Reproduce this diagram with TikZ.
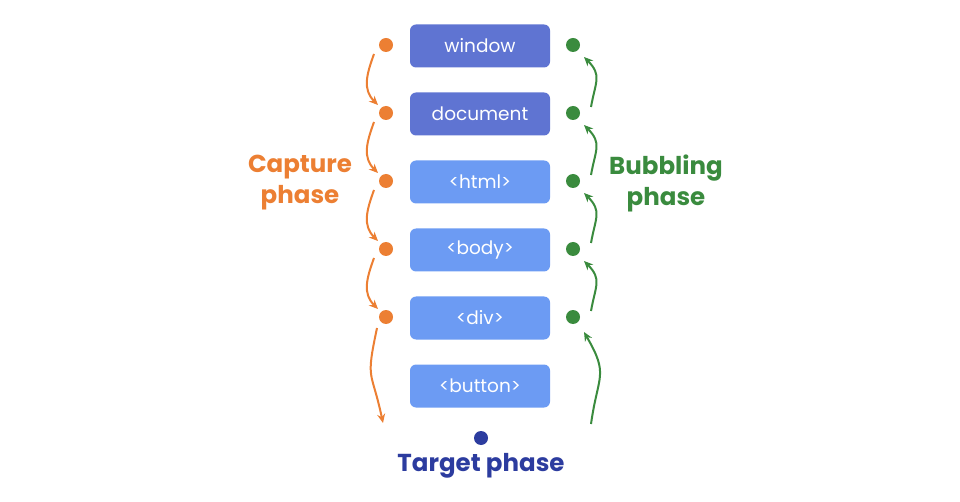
\documentclass[tikz,border=0pt]{standalone}
\usepackage{fontspec}
\setmainfont{Poppins}
\usetikzlibrary{arrows.meta,calc}
\definecolor{boxdark}{HTML}{5F74D2}
\definecolor{boxlight}{HTML}{6C9BF3}
\definecolor{capcol}{HTML}{EC7F33}
\definecolor{bubcol}{HTML}{3A8B3E}
\definecolor{tgtcol}{HTML}{2C3C9F}
\tikzset{
  elem/.style={rounded corners=6pt, minimum width=140pt, minimum height=43pt, text=white, font=\fontsize{18.5}{22}\selectfont, inner sep=0pt},
  darkbox/.style={elem, fill=boxdark},
  lightbox/.style={elem, fill=boxlight},
  dotnode/.style={circle, minimum size=14pt, inner sep=0pt},
  capdot/.style={dotnode, fill=capcol},
  bubdot/.style={dotnode, fill=bubcol},
  caparrow/.style={draw=capcol, line width=2pt, -{Stealth[length=9pt,width=8pt]}},
  bubarrow/.style={draw=bubcol, line width=2pt, -{Stealth[length=9pt,width=8pt]}},
  phaselabel/.style={font=\fontsize{24.5}{31}\selectfont\bfseries, align=center}
}
\begin{document}
\begin{tikzpicture}[x=1pt,y=1pt]
\useasboundingbox (0,0) rectangle (960,-502);
\node[darkbox] (win) at (480,-46) {window};
\node[darkbox] (doc) at (480,-114) {document};
\node[lightbox] (html) at (480,-182) {<html>};
\node[lightbox] (body) at (480,-250) {<body>};
\node[lightbox] (div) at (480,-318) {<div>};
\node[lightbox] (btn) at (480,-386) {<button>};

\foreach \n/\y in {1/45,2/113,3/181,4/249,5/317}{
  \node[capdot] (o\n) at (386,-\y) {};
  \node[bubdot] (g\n) at (573,-\y) {};
}
\node[dotnode, fill=tgtcol] (tgt) at (481,-438) {};
\node[font=\fontsize{24.5}{28}\selectfont\bfseries, text=tgtcol] (tgtlabel) at (481,-466) {Target phase};

\node[phaselabel, text=capcol] (caplabel) at (300,-183) {Capture\\phase};
\node[phaselabel, text=bubcol] (bublabel) at (666,-183) {Bubbling\\phase};

\foreach \a/\b in {1/2,2/3,3/4,4/5}{
  \draw[caparrow] ($(o\a)+(-12,-9)$) to[out=250,in=135,looseness=1.1] ($(o\b)+(-8,8)$);
  \draw[bubarrow] ($(g\b)+(18,6)$) to[out=80,in=-45,looseness=1.3] ($(g\a)+(11,-12)$);
}
\coordinate (capend) at (383,-423);
\coordinate (bubstart) at (591,-424);
\draw[caparrow] ($(o5)+(-9,-11)$) to[out=258,in=102,looseness=1.5] (capend);
\draw[bubarrow] (bubstart) to[out=82,in=-60,looseness=1.4] ($(g5)+(11,-15)$);
\end{tikzpicture}
\end{document}
